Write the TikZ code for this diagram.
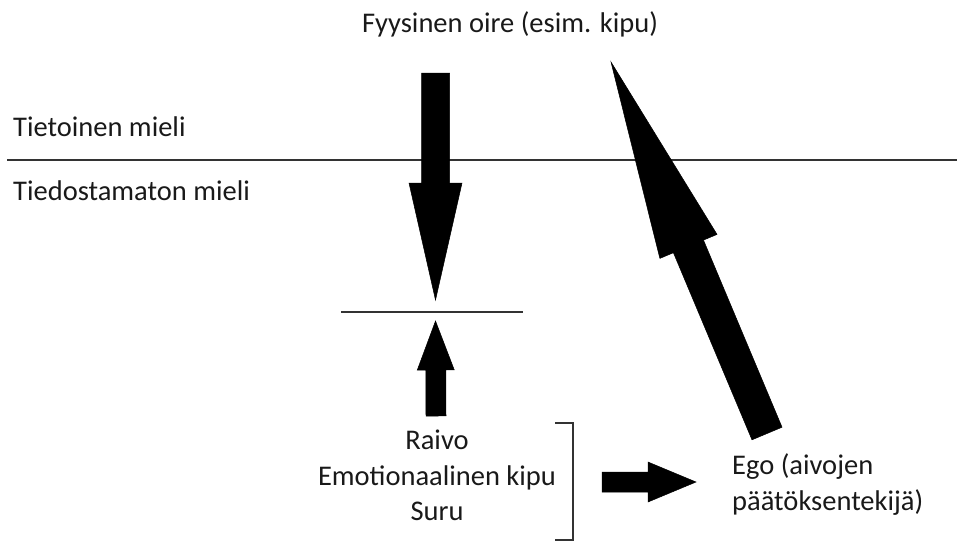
\documentclass[tikz,border=0pt]{standalone}
\usepackage{fontspec}
\setmainfont{Carlito}
\usetikzlibrary{calc}

% Filled block arrow from #1 (tail) to #2 (tip):
% #3 half shaft width, #4 half head width, #5 head length
\newcommand{\BlkArrow}[5]{%
  \path ($(#2)!#5!(#1)$) coordinate (ba-base);
  \fill[arrowfill]
    ($(#1)!#3!90:(#2)$) -- ($(ba-base)!#3!90:(#2)$) -- ($(ba-base)!#4!90:(#2)$)
    -- (#2)
    -- ($(ba-base)!#4!-90:(#2)$) -- ($(ba-base)!#3!-90:(#2)$) -- ($(#1)!#3!-90:(#2)$)
    -- cycle;
}

\begin{document}
\begin{tikzpicture}[x=1pt,y=-1pt,
  label/.style={inner sep=0pt, font=\fontsize{28.5}{35.5}\selectfont, text=black!90},
  rule/.style={line width=2pt, black!80},
  arrowfill/.style={fill=black, draw=black, line width=0.5pt, line join=miter}]
\useasboundingbox (0,0) rectangle (957,542);

% texts (multi-line nodes are placed by the baseline of their last line)
\node[label, anchor=base] (symptom) at (510,32) {Fyysinen oire (esim. kipu)};
\node[label, anchor=base west] (conscious) at (13,136) {Tietoinen mieli};
\node[label, anchor=base west] (unconscious) at (13,200) {Tiedostamaton mieli};
\node[label, anchor=base, align=center] (feelings) at (437,520.5)
  {Raivo\\Emotionaalinen kipu\\Suru};
\node[label, anchor=base west, align=left] (ego) at (732,510)
  {Ego (aivojen\\päätöksentekijä)};

% border between the conscious and the unconscious mind
\coordinate (border-l) at (7,160);
\coordinate (border-r) at (957,160);
\draw[rule] (border-l) -- (border-r);

% barrier line where the two arrows meet
\coordinate (barrier-l) at (341,312);
\coordinate (barrier-r) at (523,312);
\draw[rule] (barrier-l) -- (barrier-r);

% bracket around the feelings
\coordinate (br-top) at (555,423);
\coordinate (br-bot) at (555,540);
\draw[rule, line cap=butt] (br-top) -| (573,540) -- (br-bot);

% arrow coordinates
\coordinate (down-tail) at (435.5,73);
\coordinate (down-tip)  at (435.5,300);
\coordinate (up-tail)   at (436,416);
\coordinate (up-tip)    at (435.5,321);
\coordinate (ego-tail)  at (767,433.5);
\coordinate (ego-tip)   at (611,62);
\coordinate (right-tail) at (602,482);
\coordinate (right-tip)  at (696,482);

\BlkArrow{down-tail}{down-tip}{14pt}{26.5pt}{117pt}
\BlkArrow{up-tail}{up-tip}{10pt}{18.5pt}{49pt}
\BlkArrow{ego-tail}{ego-tip}{16.3pt}{31pt}{200pt}
\BlkArrow{right-tail}{right-tip}{10pt}{20pt}{48pt}
\end{tikzpicture}
\end{document}
